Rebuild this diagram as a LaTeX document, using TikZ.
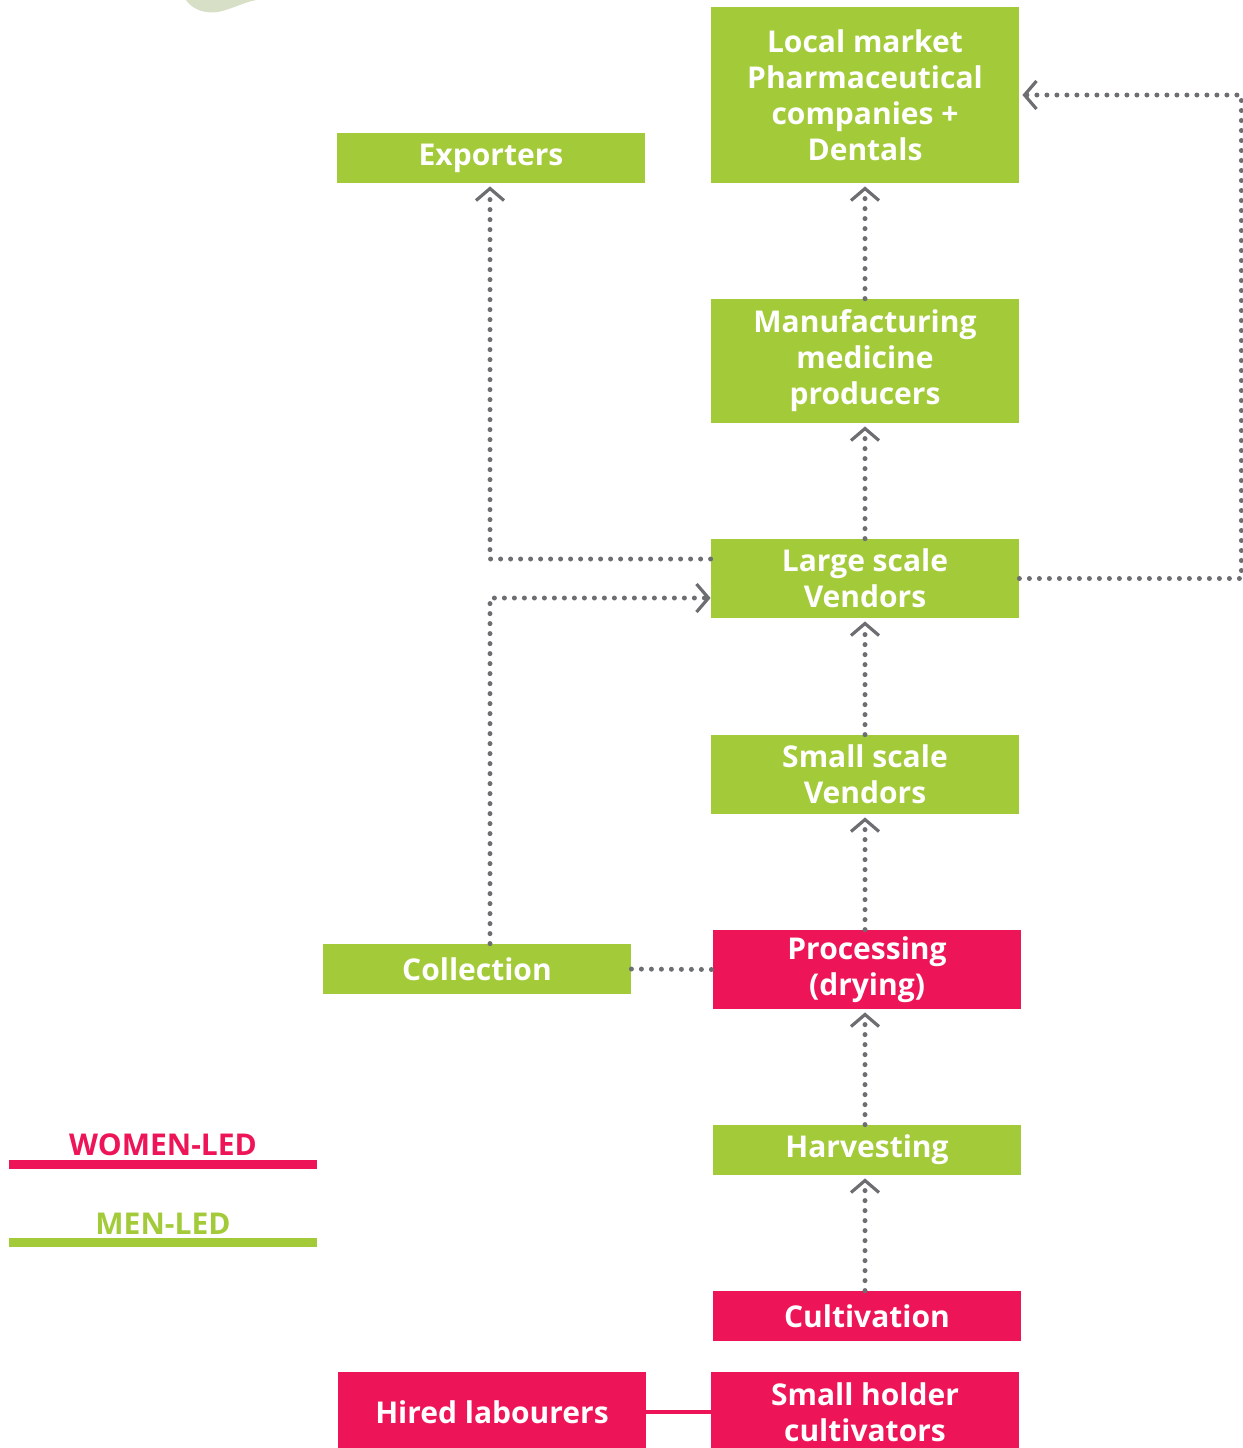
\documentclass[tikz,border=0pt]{standalone}
\usepackage{fontspec}
\setmainfont{Open Sans}
\usetikzlibrary{arrows.meta,positioning}
\definecolor{vgreen}{HTML}{A3CB39}
\definecolor{vpink}{HTML}{EE1458}
\definecolor{vgrey}{HTML}{6D6E71}
\definecolor{vleaf}{HTML}{D7DFC6}

\tikzset{
  stage/.style={text=white, font=\fontsize{15}{18}\selectfont\bfseries, align=center,
    minimum width=154pt, inner sep=0pt},
  menled/.style={stage, fill=vgreen},
  womenled/.style={stage, fill=vpink},
  flow/.style={vgrey, line width=2.5pt, line cap=round, dash pattern=on 0pt off 5pt},
  flowto/.style={flow, -{Straight Barb[length=6pt, width=14pt, line width=1.6pt]}},
  keytext/.style={font=\fontsize{15}{17}\selectfont\bfseries}
}

\begin{document}
\begin{tikzpicture}[x=0.5pt, y=-0.5pt]
 \useasboundingbox (0,0) rectangle (1243,1448);
 % leaf left over at the top
 \fill[vleaf] (186,0) .. controls (192,9) and (204,14) .. (218,12)
   .. controls (232,9) and (242,3) .. (256,0) -- cycle;

 % chain of stages
 \node[menled, minimum height=88pt] (local) at (865,95) {Local market\\Pharmaceutical\\companies +\\Dentals};
 \node[menled, minimum height=25pt] (exp) at (491,158) {Exporters};
 \node[menled, minimum height=62pt] (manu) at (865,361) {Manufacturing\\medicine\\producers};
 \node[menled, minimum height=39.5pt] (large) at (865,578.5) {Large scale\\Vendors};
 \node[menled, minimum height=39.5pt] (small) at (865,774.5) {Small scale\\Vendors};
 \node[menled, minimum height=25pt] (coll) at (477,969) {Collection};
 \node[womenled, minimum height=39.5pt] (proc) at (867,969.5) {Processing\\(drying)};
 \node[menled, minimum height=25pt] (harv) at (867,1150) {Harvesting};
 \node[womenled, minimum height=25pt] (cult) at (867,1316) {Cultivation};
 \node[womenled, minimum height=40pt] (hired) at (492,1412) {Hired labourers};
 \node[womenled, minimum height=40pt] (holder) at (865,1412) {Small holder\\cultivators};

 % links
 \draw[flowto] (cult.north -| 865,0) -- ([yshift=-1.5pt]harv.south -| 865,0);
 \draw[flowto] (harv.north -| 865,0) -- ([yshift=-1.5pt]proc.south -| 865,0);
 \draw[flowto] (proc.north -| 865,0) -- ([yshift=-1.5pt]small.south);
 \draw[flowto] (small.north) -- ([yshift=-1.5pt]large.south);
 \draw[flowto] (large.north) -- ([yshift=-1.5pt]manu.south);
 \draw[flowto] (manu.north) -- ([yshift=-1.5pt]local.south);
 \draw[flowto] ([yshift=9.75pt]large.west) -| ([yshift=-1.5pt]exp.south -| 490,0);
 \draw[flowto] (coll.north -| 490,0) |- ([yshift=-9.75pt]large.west);
 \draw[flow] (coll.east) -- (proc.west);
 \draw[flowto] (large.east) -- ++(222,0) |- ([xshift=1.5pt]local.east);
 \draw[vpink, line width=2pt] (hired.east) -- (holder.west);

 % key
 \node[keytext, text=vpink, anchor=base] (womenkey) at (163,1155) {WOMEN-LED};
 \fill[vpink] (9,1160) rectangle (317,1169);
 \node[keytext, text=vgreen, anchor=base] (menkey) at (163,1234) {MEN-LED};
 \fill[vgreen] (9,1238) rectangle (317,1247);
\end{tikzpicture}
\end{document}
